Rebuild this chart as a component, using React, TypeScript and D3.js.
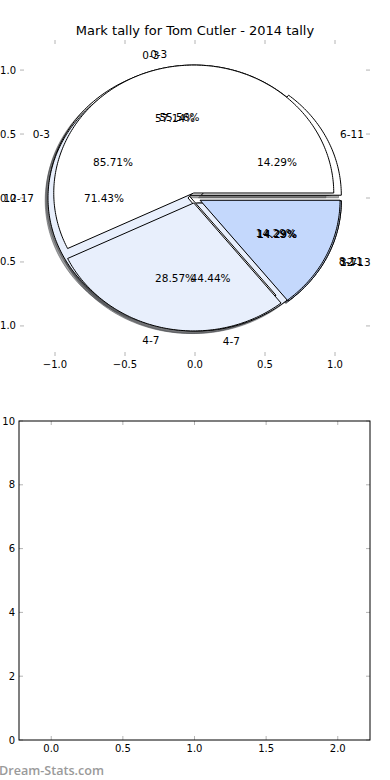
import React from "react";
import * as d3 from "d3";

const titleText = "Mark tally for Tom Cutler - 2014 tally";

// four pies drawn on the same axes (in drawing order)
const pieALabels = ["0-3", "4-7"];
const pieAValues = [5, 4];
const pieCLabels = ["0-3", "12-13"];
const pieCValues = [6, 1];
const pieDLabels = ["6-11", "12-17", "3-7"];
const pieDValues = [1, 5, 1];
const pieBLabels = ["0-3", "4-7", "8-11"];
const pieBValues = [4, 2, 1];
const pieExplode = [0.04, 0.05, 0.05, 0.04];

const sliceColors = ["#ffffff", "#e8effc", "#c4d8fc"];

const pieTicks = [-1, -0.5, 0, 0.5, 1];
const barXTicks = [0, 0.5, 1, 1.5, 2];
const barYTicks = [0, 2, 4, 6, 8, 10];

const FONT = "'DejaVu Sans', sans-serif";
const TICK_GRAY = "#b4b4b4";

export default function App() {
  const pieX = d3.scaleLinear().domain([-1.25, 1.25]).range([20, 370]);
  const pieY = d3.scaleLinear().domain([-1.235, 1.235]).range([356, 40]);
  const barX = d3.scaleLinear().domain([-0.225, 2.225]).range([19, 370]);
  const barY = d3.scaleLinear().domain([0, 10]).range([740, 421]);

  const pies = [
    { labels: pieALabels, values: pieAValues, explode: pieExplode[0] },
    { labels: pieCLabels, values: pieCValues, explode: pieExplode[1] },
    { labels: pieDLabels, values: pieDValues, explode: pieExplode[2] },
    { labels: pieBLabels, values: pieBValues, explode: pieExplode[3] },
  ];

  const pieGen = d3
    .pie<number>()
    .sort(null)
    .value((d) => d)
    .startAngle(0)
    .endAngle(2 * Math.PI);

  const line = d3
    .line<[number, number]>()
    .x((d) => pieX(d[0]))
    .y((d) => pieY(d[1]));

  const fmt = d3.format(".2f");

  const wedges = pies.flatMap((p, pi) => {
    const total = d3.sum(p.values);
    return pieGen(p.values).map((a, i) => {
      const mid = (a.startAngle + a.endAngle) / 2;
      const cx = p.explode * Math.cos(mid);
      const cy = p.explode * Math.sin(mid);
      const n = Math.max(2, Math.ceil((a.endAngle - a.startAngle) / (Math.PI / 180)));
      const pts: [number, number][] = [[cx, cy]];
      for (let k = 0; k <= n; k++) {
        const t = a.startAngle + ((a.endAngle - a.startAngle) * k) / n;
        pts.push([cx + Math.cos(t), cy + Math.sin(t)]);
      }
      const shadowPts: [number, number][] = pts.map(([u, v]) => [u - 0.02, v - 0.02]);
      const color = d3.rgb(sliceColors[i % sliceColors.length]);
      const shadowColor = d3.rgb(color.r * 0.3, color.g * 0.3, color.b * 0.3).toString();
      const lx = cx + 1.1 * Math.cos(mid);
      const ly = cy + 1.1 * Math.sin(mid);
      const px = cx + 0.6 * Math.cos(mid);
      const py = cy + 0.6 * Math.sin(mid);
      return {
        key: `${pi}-${i}`,
        path: line(pts) + "Z",
        shadow: line(shadowPts) + "Z",
        fill: color.toString(),
        shadowColor,
        label: p.labels[i],
        lx,
        ly,
        pct: fmt((a.value / total) * 100) + "%",
        px,
        py,
      };
    });
  });

  return (
    <div style={{ position: "absolute", left: 0, top: 0 }}>
      <svg width={390} height={780} style={{ display: "block", background: "#fff" }}>
        <rect x={0} y={0} width={390} height={780} fill="#ffffff" />
        {/* title */}
        <text x={195} y={34.5} textAnchor="middle" fontFamily={FONT} fontSize={13} fill="#000">
          {titleText}
        </text>

        {/* pie axis ticks (no frame) */}
        <g stroke={TICK_GRAY} strokeWidth={1}>
          {pieTicks.map((t) => (
            <g key={"px" + t}>
              <line x1={pieX(t)} x2={pieX(t)} y1={pieY.range()[1]} y2={pieY.range()[1] + 4} />
              <line x1={pieX(t)} x2={pieX(t)} y1={pieY.range()[0]} y2={pieY.range()[0] - 4} />
            </g>
          ))}
          {pieTicks.map((t) => (
            <g key={"py" + t}>
              <line x1={pieX.range()[0]} x2={pieX.range()[0] + 4} y1={pieY(t)} y2={pieY(t)} />
              <line x1={pieX.range()[1]} x2={pieX.range()[1] - 4} y1={pieY(t)} y2={pieY(t)} />
            </g>
          ))}
        </g>
        <g fontFamily={FONT} fontSize={10} fill="#000">
          {pieTicks.map((t) => (
            <text key={"pxl" + t} x={pieX(t)} y={pieY.range()[0] + 8} dy="0.35em" textAnchor="middle">
              {d3.format(".1f")(t).replace("-", "\u2212")}
            </text>
          ))}
          {pieTicks.map((t) => (
            <text key={"pyl" + t} x={pieX.range()[0] - 4} y={pieY(t)} dy="0.35em" textAnchor="end">
              {d3.format(".1f")(t).replace("-", "\u2212")}
            </text>
          ))}
        </g>

        {/* shadows first (lower z-order), then wedges */}
        <g>
          {wedges.map((w) => (
            <path key={"s" + w.key} d={w.shadow} fill={w.shadowColor} fillOpacity={0.5} stroke={w.shadowColor} strokeOpacity={0.5} strokeWidth={1} />
          ))}
        </g>
        <g>
          {wedges.map((w) => (
            <path key={"w" + w.key} d={w.path} fill={w.fill} stroke="#000" strokeWidth={1} strokeLinejoin="round" />
          ))}
        </g>
        <g fontFamily={FONT} fontSize={10.5} fill="#000">
          {wedges.map((w) => (
            <text
              key={"l" + w.key}
              x={pieX(w.lx)}
              y={pieY(w.ly)}
              dy="0.35em"
              textAnchor={w.lx > 0 ? "start" : "end"}
            >
              {w.label}
            </text>
          ))}
          {wedges.map((w) => (
            <text key={"p" + w.key} x={pieX(w.px)} y={pieY(w.py)} dy="0.35em" textAnchor="middle">
              {w.pct}
            </text>
          ))}
        </g>

        {/* bottom (empty) chart */}
        <g stroke={TICK_GRAY} strokeWidth={1}>
          {barXTicks.map((t) => (
            <g key={"bx" + t}>
              <line x1={barX(t)} x2={barX(t)} y1={barY(10)} y2={barY(10) + 4} />
              <line x1={barX(t)} x2={barX(t)} y1={barY(0)} y2={barY(0) - 4} />
            </g>
          ))}
          {barYTicks.map((t) => (
            <g key={"by" + t}>
              <line x1={barX.range()[0]} x2={barX.range()[0] + 4} y1={barY(t)} y2={barY(t)} />
              <line x1={barX.range()[1]} x2={barX.range()[1] - 4} y1={barY(t)} y2={barY(t)} />
            </g>
          ))}
        </g>
        <rect
          x={barX.range()[0]}
          y={barY(10)}
          width={barX.range()[1] - barX.range()[0]}
          height={barY(0) - barY(10)}
          fill="none"
          stroke="#000"
          strokeWidth={1}
        />
        <g fontFamily={FONT} fontSize={10} fill="#000">
          {barXTicks.map((t) => (
            <text key={"bxl" + t} x={barX(t)} y={barY(0) + 8} dy="0.35em" textAnchor="middle">
              {d3.format(".1f")(t)}
            </text>
          ))}
          {barYTicks.map((t) => (
            <text key={"byl" + t} x={barX.range()[0] - 4} y={barY(t)} dy="0.35em" textAnchor="end">
              {String(t)}
            </text>
          ))}
        </g>

        {/* watermark */}
        <text x={-1} y={775} fontFamily="'Open Sans', sans-serif" fontWeight={600} fontSize={12.6} fill="#9a9a9a">
          Dream-Stats.com
        </text>
      </svg>
    </div>
  );
}
